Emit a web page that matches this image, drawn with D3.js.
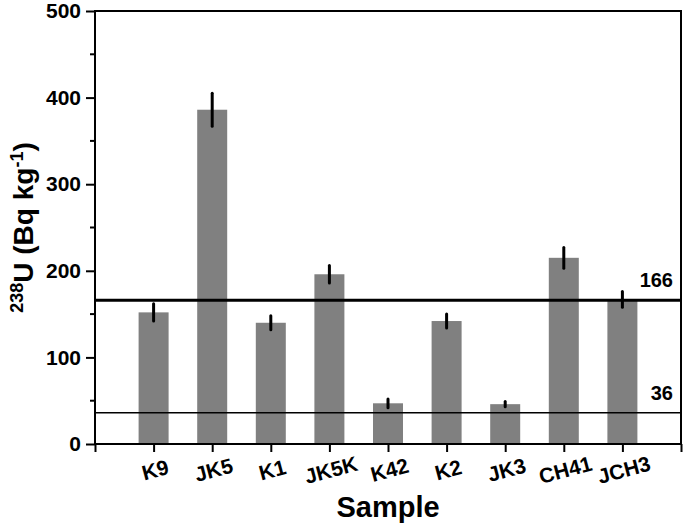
<!DOCTYPE html>
<html>
<head>
<meta charset="utf-8">
<script src="https://cdn.jsdelivr.net/npm/d3@7"></script>
<style>
  body { margin: 0; background: #fff; }
  text { font-family: "Liberation Sans", Arial, sans-serif; font-weight: bold; fill: #000; }
</style>
</head>
<body>
<div id="chart"></div>
<script>
// data
var samples = ['K9', 'JK5', 'K1', 'JK5K', 'K42', 'K2', 'JK3', 'CH41', 'JCH3'];
var values = [152, 386, 140, 196, 47, 142, 46, 215, 167];
var errors = [10, 19, 8, 10, 5, 8, 3, 12, 9];
var refLines = [166, 36];
var yTicks = [0, 100, 200, 300, 400, 500];

var w = 685, h = 528;
var pLeft = 95, pRight = 681, pTop = 11, pBottom = 444;

var svg = d3.select("#chart")
  .append("svg")
  .attr("width", w)
  .attr("height", h);

var x = d3.scaleLinear().domain([0, samples.length + 1]).range([pLeft, pRight]);
var y = d3.scaleLinear().domain([0, 500]).range([pBottom, pTop]);
var barW = 30;

// bars
svg.selectAll('.bar')
  .data(values)
  .enter()
  .append('rect')
  .attr("x", (d, i) => x(i + 1) - barW / 2)
  .attr("y", d => y(d))
  .attr("width", barW)
  .attr("height", d => y(0) - y(d))
  .style("fill", "#808080");

// error bars
svg.selectAll('.err')
  .data(values)
  .enter()
  .append('line')
  .attr("x1", (d, i) => x(i + 1))
  .attr("x2", (d, i) => x(i + 1))
  .attr("y1", (d, i) => y(d + errors[i]))
  .attr("y2", (d, i) => y(d - errors[i]))
  .attr("stroke", "#000")
  .attr("stroke-width", 3)
  .attr("stroke-linecap", "round");

// reference lines
svg.selectAll('.ref')
  .data(refLines)
  .enter()
  .append('line')
  .attr("x1", pLeft)
  .attr("x2", pRight)
  .attr("y1", d => y(d))
  .attr("y2", d => y(d))
  .attr("stroke", "#000")
  .attr("stroke-width", (d, i) => i == 0 ? 3 : 1.5);

svg.selectAll('.refLabel')
  .data(refLines)
  .enter()
  .append('text')
  .attr("x", 673)
  .attr("y", d => y(d) - 13)
  .attr("text-anchor", "end")
  .style("font-size", "20px")
  .text(d => d);

// frame
svg.append('rect')
  .attr("x", pLeft)
  .attr("y", pTop)
  .attr("width", pRight - pLeft)
  .attr("height", pBottom - pTop)
  .attr("fill", "none")
  .attr("stroke", "#000")
  .attr("stroke-width", 2);

// y axis
var yAxis = d3.axisLeft(y)
  .tickValues(yTicks)
  .tickSize(9)
  .tickPadding(5);
var gy = svg.append('g')
  .attr("transform", "translate(" + pLeft + ",0)")
  .call(yAxis);
gy.select('.domain').remove();
gy.selectAll('.tick line').attr("stroke-width", 2);
gy.selectAll('.tick text').style("font-size", "21px").style("font-family", "Liberation Sans, Arial, sans-serif");

// minor y ticks
svg.selectAll('.minor')
  .data(yTicks.slice(0, -1))
  .enter()
  .append('line')
  .attr("x1", pLeft - 5)
  .attr("x2", pLeft)
  .attr("y1", d => y(d + 50))
  .attr("y2", d => y(d + 50))
  .attr("stroke", "#000")
  .attr("stroke-width", 2);

// x axis
var xAxis = d3.axisBottom(x)
  .tickValues(d3.range(0, samples.length + 2))
  .tickSize(8)
  .tickFormat(d => (d >= 1 && d <= samples.length) ? samples[d - 1] : '');
var gx = svg.append('g')
  .attr("transform", "translate(0," + pBottom + ")")
  .call(xAxis);
gx.select('.domain').remove();
gx.selectAll('.tick line').attr("stroke-width", 2);
gx.selectAll('.tick text')
  .style("font-size", "21px")
  .style("font-family", "Liberation Sans, Arial, sans-serif")
  .attr("text-anchor", "middle")
  .attr("dy", null)
  .attr("y", 0)
  .attr("transform", "translate(3,33) rotate(-15)");

// axis titles
svg.append('text')
  .attr("x", 388)
  .attr("y", 517)
  .attr("text-anchor", "middle")
  .style("font-size", "29px")
  .text("Sample");

var yt = svg.append('text')
  .attr("transform", "translate(33," + ((pTop + pBottom) / 2) + ") rotate(-90)")
  .attr("text-anchor", "middle")
  .style("font-size", "28px");
yt.append('tspan').attr("baseline-shift", "super").style("font-size", "18px").text("238");
yt.append('tspan').text("U (Bq kg");
yt.append('tspan').attr("baseline-shift", "super").style("font-size", "18px").text("-1");
yt.append('tspan').text(")");
</script>
</body>
</html>
